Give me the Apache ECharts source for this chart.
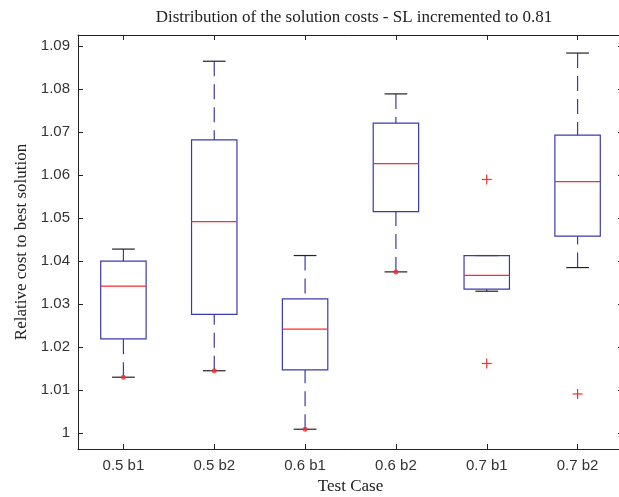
<!DOCTYPE html>
<html>
<head>
<meta charset="utf-8">
<script src="https://cdn.jsdelivr.net/npm/echarts@6/dist/echarts.min.js"></script>
<style>
  html, body { margin: 0; padding: 0; background: #fff; }
  #chart { width: 619px; height: 497px; }
</style>
</head>
<body>
<div id="chart"></div>
<script>
var categories = ['0.5 b1', '0.5 b2', '0.6 b1', '0.6 b2', '0.7 b1', '0.7 b2'];
var lowWhisker = [1.0130, 1.0145, 1.0009, 1.0375, 1.0330, 1.0385];
var q1 = [1.0219, 1.0276, 1.0147, 1.0515, 1.0335, 1.0458];
var medians = [1.0342, 1.0492, 1.0242, 1.0627, 1.0367, 1.0585];
var q3 = [1.0400, 1.0682, 1.0312, 1.0721, 1.0413, 1.0693];
var highWhisker = [1.0428, 1.0865, 1.0413, 1.0789, 1.0413, 1.0884];
// red dots sitting on the lower caps
var lowDots = [[0, 1.0130], [1, 1.0145], [2, 1.0009], [3, 1.0375]];
// outliers drawn as red crosses
var outliers = [[4, 1.0590], [4, 1.0162], [5, 1.0091]];
var yTicks = [1, 1.01, 1.02, 1.03, 1.04, 1.05, 1.06, 1.07, 1.08, 1.09];

var blue = '#3a3aae';
var red = '#ff2a2a';
var black = '#222';

var boxData = categories.map(function (c, i) {
  return [i, lowWhisker[i], q1[i], medians[i], q3[i], highWhisker[i]];
});

function renderBox(params, api) {
  var x = api.value(0);
  var pLow = api.coord([x, api.value(1)]);
  var pQ1 = api.coord([x, api.value(2)]);
  var pMed = api.coord([x, api.value(3)]);
  var pQ3 = api.coord([x, api.value(4)]);
  var pHigh = api.coord([x, api.value(5)]);
  var bw = api.size([1, 0])[0] * 0.5;
  var cw = bw * 0.5;
  var cx = pMed[0];
  var dash = [15, 8];
  var children = [];
  if (pHigh[1] < pQ3[1] - 0.5) {
    children.push({ type: 'line', shape: { x1: cx, y1: pHigh[1], x2: cx, y2: pQ3[1] },
      style: { stroke: blue, lineWidth: 1.2, lineDash: dash } });
  }
  if (pLow[1] > pQ1[1] + 0.5) {
    children.push({ type: 'line', shape: { x1: cx, y1: pLow[1], x2: cx, y2: pQ1[1] },
      style: { stroke: blue, lineWidth: 1.2, lineDash: dash } });
  }
  children.push({ type: 'line', shape: { x1: cx - cw / 2, y1: pHigh[1], x2: cx + cw / 2, y2: pHigh[1] },
    style: { stroke: black, lineWidth: 1.2 } });
  children.push({ type: 'line', shape: { x1: cx - cw / 2, y1: pLow[1], x2: cx + cw / 2, y2: pLow[1] },
    style: { stroke: black, lineWidth: 1.2 } });
  children.push({ type: 'rect', shape: { x: cx - bw / 2, y: pQ3[1], width: bw, height: pQ1[1] - pQ3[1] },
    style: { fill: 'none', stroke: blue, lineWidth: 1.2 } });
  children.push({ type: 'line', shape: { x1: cx - bw / 2, y1: pMed[1], x2: cx + bw / 2, y2: pMed[1] },
    style: { stroke: red, lineWidth: 1.2 } });
  return { type: 'group', children: children };
}

function renderCross(params, api) {
  var p = api.coord([api.value(0), api.value(1)]);
  var h = 5;
  return { type: 'group', children: [
    { type: 'line', shape: { x1: p[0] - h, y1: p[1], x2: p[0] + h, y2: p[1] }, style: { stroke: red, lineWidth: 1.2 } },
    { type: 'line', shape: { x1: p[0], y1: p[1] - h, x2: p[0], y2: p[1] + h }, style: { stroke: red, lineWidth: 1.2 } }
  ] };
}

var chart = echarts.init(document.getElementById('chart'));
var axisLine = { show: true, lineStyle: { color: black, width: 1 } };
var tickStyle = { color: black, width: 1 };

chart.setOption({
  animation: false,
  title: {
    text: 'Distribution of the solution costs - SL incremented to 0.81',
    left: 349, top: 4, textAlign: 'center',
    textStyle: { fontFamily: 'Liberation Serif', fontSize: 17, fontWeight: 'normal', color: '#222' }
  },
  grid: { left: 78, top: 35, width: 545, height: 414, outerBoundsMode: 'none', containLabel: false },
  xAxis: [{
    type: 'category', data: categories, position: 'bottom',
    name: 'Test Case', nameLocation: 'middle', nameGap: 28,
    nameTextStyle: { fontFamily: 'Liberation Serif', fontSize: 17, color: '#222' },
    axisLine: axisLine,
    axisTick: { show: true, inside: true, length: 5, alignWithLabel: true, lineStyle: tickStyle },
    axisLabel: { fontFamily: 'Liberation Sans', fontSize: 15, color: '#333', margin: 9 },
    splitLine: { show: false }
  }, {
    type: 'category', data: categories, position: 'top',
    axisLine: axisLine,
    axisTick: { show: true, inside: true, length: 5, alignWithLabel: true, lineStyle: tickStyle },
    axisLabel: { show: false }, splitLine: { show: false }
  }],
  yAxis: [{
    type: 'value', min: 0.9963, max: 1.0926, position: 'left',
    name: 'Relative cost to best solution', nameLocation: 'middle', nameGap: 47,
    nameTextStyle: { fontFamily: 'Liberation Serif', fontSize: 17, color: '#222' },
    axisLine: axisLine,
    axisTick: { show: true, inside: true, length: 5, lineStyle: tickStyle, customValues: yTicks },
    axisLabel: { fontFamily: 'Liberation Sans', fontSize: 15, color: '#333', margin: 8,
      customValues: yTicks,
      formatter: function (v) { return String(Math.round(v * 100) / 100); } },
    splitLine: { show: false }
  }, {
    type: 'value', min: 0.9963, max: 1.0926, position: 'right',
    axisLine: axisLine,
    axisTick: { show: true, inside: true, length: 5, lineStyle: tickStyle, customValues: yTicks },
    axisLabel: { show: false }, splitLine: { show: false }
  }],
  series: [{
    type: 'custom', renderItem: renderBox, data: boxData,
    encode: { x: 0, y: [1, 2, 3, 4, 5] }, clip: false
  }, {
    type: 'scatter', data: lowDots, symbol: 'circle', symbolSize: 5,
    itemStyle: { color: red }, z: 5
  }, {
    type: 'custom', renderItem: renderCross, data: outliers,
    encode: { x: 0, y: 1 }
  }]
});
</script>
</body>
</html>
